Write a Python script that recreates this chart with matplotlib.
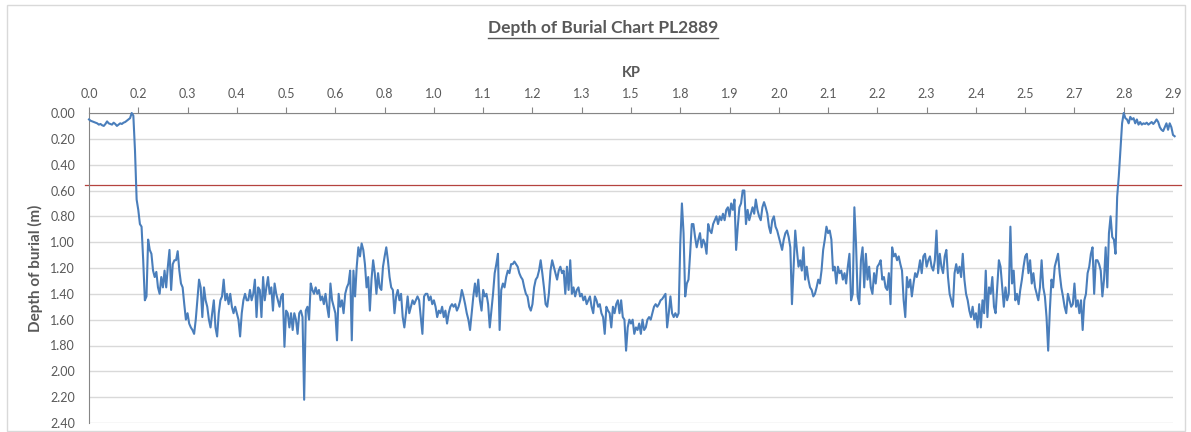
import matplotlib
matplotlib.use("Agg")
import matplotlib.pyplot as plt
from matplotlib.lines import Line2D
from matplotlib.patches import Rectangle

# KP labels shown on the category axis (one every 30 samples)
kp_labels = ["0.0", "0.2", "0.3", "0.4", "0.5", "0.6", "0.8", "1.0", "1.1", "1.2", "1.3", "1.5",
             "1.8", "1.9", "2.0", "2.1", "2.2", "2.3", "2.4", "2.5", "2.7", "2.8", "2.9"]
samples_per_label = 30

# depth of burial (m), in stretches
depth_a = [0.05, 0.06, 0.065, 0.07, 0.075, 0.08, 0.09, 0.085, 0.095, 0.10, 0.085, 0.065, 0.08, 0.085,
           0.09, 0.075, 0.085, 0.10, 0.09, 0.08, 0.085, 0.075, 0.07, 0.06, 0.05, 0.04, 0.00, 0.02,
           0.29, 0.67, 0.75, 0.86, 0.88, 1.14, 1.45, 1.42, 0.98, 1.06, 1.09, 1.22, 1.27, 1.23, 1.35,
           1.40, 1.27, 1.35, 1.22, 1.35, 1.19, 1.06, 1.37, 1.17, 1.14, 1.14, 1.07, 1.22, 1.32, 1.35,
           1.48, 1.60, 1.55, 1.63, 1.66, 1.68, 1.71, 1.60, 1.45, 1.29, 1.35, 1.58, 1.35, 1.45, 1.50,
           1.60, 1.66, 1.55, 1.45, 1.66, 1.73, 1.55, 1.45, 1.42, 1.29, 1.45, 1.40, 1.48, 1.40, 1.50,
           1.55, 1.50, 1.55, 1.60, 1.73, 1.55, 1.45, 1.40, 1.45, 1.45, 1.37, 1.45, 1.40, 1.29, 1.58,
           1.35]
depth_b = [1.37, 1.58, 1.27, 1.45, 1.35, 1.27, 1.40, 1.35, 1.53, 1.32, 1.40, 1.45, 1.50, 1.42, 1.40,
           1.81, 1.53, 1.55, 1.66, 1.55, 1.68, 1.55, 1.60, 1.71, 1.55, 1.53, 1.58, 2.22, 1.53, 1.50,
           1.60, 1.32, 1.37, 1.40, 1.35, 1.40, 1.37, 1.45, 1.42, 1.48, 1.40, 1.50, 1.58, 1.32, 1.45,
           1.50, 1.55, 1.76, 1.40, 1.50, 1.45, 1.55, 1.40, 1.35, 1.32, 1.22, 1.76, 1.22, 1.42, 1.19,
           1.04, 1.11, 1.01, 1.06, 1.17, 1.35, 1.27, 1.53, 1.29, 1.14, 1.24, 1.40, 1.24, 1.35, 1.37,
           1.19, 1.11, 1.04, 1.14, 1.27, 1.35, 1.37, 1.55, 1.42, 1.37, 1.45, 1.40, 1.58, 1.66, 1.55,
           1.42, 1.55, 1.50, 1.45, 1.48, 1.45, 1.42, 1.45, 1.58, 1.71, 1.42, 1.40, 1.40, 1.45, 1.42,
           1.48, 1.45, 1.50, 1.58, 1.53]
depth_c = [1.55, 1.50, 1.58, 1.53, 1.63, 1.55, 1.50, 1.48, 1.50, 1.48, 1.53, 1.50, 1.45, 1.37, 1.42,
           1.48, 1.55, 1.60, 1.68, 1.55, 1.42, 1.32, 1.42, 1.29, 1.45, 1.53, 1.37, 1.42, 1.40, 1.48,
           1.66, 1.53, 1.40, 1.24, 1.17, 1.09, 1.68, 1.37, 1.32, 1.35, 1.27, 1.22, 1.24, 1.17, 1.17,
           1.15, 1.17, 1.19, 1.24, 1.27, 1.29, 1.35, 1.40, 1.42, 1.50, 1.53, 1.48, 1.35, 1.29, 1.27,
           1.22, 1.14, 1.24, 1.35, 1.48, 1.50, 1.40, 1.22, 1.14, 1.19, 1.24, 1.29, 1.22, 1.19, 1.24,
           1.22, 1.40, 1.19, 1.37, 1.14, 1.40, 1.35, 1.42, 1.37, 1.35, 1.42, 1.40, 1.45, 1.42, 1.48,
           1.45, 1.42, 1.50, 1.55, 1.42, 1.45, 1.50, 1.48, 1.55, 1.58, 1.71, 1.50, 1.53, 1.55, 1.66,
           1.50, 1.55, 1.48, 1.45, 1.55]
depth_d = [1.45, 1.58, 1.60, 1.84, 1.66, 1.60, 1.63, 1.60, 1.71, 1.66, 1.68, 1.63, 1.71, 1.60, 1.68,
           1.66, 1.60, 1.58, 1.60, 1.55, 1.50, 1.48, 1.50, 1.48, 1.45, 1.44, 1.42, 1.40, 1.66, 1.55,
           1.42, 1.55, 1.58, 1.55, 1.58, 1.55, 1.01, 0.70, 0.93, 1.42, 1.32, 1.29, 1.09, 0.86, 0.86,
           0.96, 1.04, 0.98, 0.93, 1.04, 0.98, 1.01, 1.09, 0.86, 0.91, 0.93, 0.86, 0.83, 0.80, 0.86,
           0.80, 0.83, 0.78, 0.83, 0.75, 0.73, 0.80, 0.70, 0.75, 0.67, 1.06, 0.88, 0.73, 0.70, 0.60,
           0.60, 0.86, 0.75, 0.83, 0.78, 0.73, 0.78, 0.67, 0.75, 0.80, 0.83, 0.73, 0.69, 0.73, 0.78,
           0.88, 0.93, 0.83, 0.80, 0.88, 0.91, 0.96, 1.01, 1.06, 0.98, 0.93, 0.91, 0.96, 1.04, 1.48,
           1.19, 0.91, 1.06, 1.19]
depth_e = [1.14, 1.22, 1.04, 1.29, 1.19, 1.29, 1.35, 1.37, 1.42, 1.40, 1.35, 1.29, 1.32, 1.22, 1.06,
           0.98, 0.88, 0.93, 0.91, 0.98, 1.22, 1.19, 1.32, 1.19, 1.24, 1.22, 1.29, 1.24, 1.32, 1.19,
           1.09, 1.45, 1.40, 0.73, 1.01, 1.42, 1.48, 1.14, 1.04, 1.35, 1.09, 1.29, 1.19, 1.35, 1.40,
           1.24, 1.32, 1.19, 1.17, 1.14, 1.29, 1.27, 1.35, 1.37, 1.24, 1.48, 1.04, 1.11, 1.09, 1.14,
           1.11, 1.17, 1.22, 1.45, 1.58, 1.27, 1.35, 1.29, 1.42, 1.32, 1.24, 1.27, 1.22, 1.14, 1.24,
           1.11, 1.09, 1.19, 1.14, 1.11, 1.19, 1.22, 1.14, 0.91, 1.24, 1.09, 1.19, 1.24, 1.11, 1.06,
           1.27, 1.40, 1.45, 1.50, 1.24, 1.17, 1.24, 1.19, 1.27, 1.09, 1.29, 1.40, 1.45, 1.53, 1.58,
           1.50, 1.60, 1.55, 1.66, 1.48]
depth_f = [1.66, 1.45, 1.55, 1.22, 1.58, 1.35, 1.40, 1.27, 1.50, 1.55, 1.35, 1.14, 1.19, 1.35, 1.50,
           1.35, 1.45, 1.40, 0.88, 1.32, 1.22, 1.45, 1.40, 1.48, 1.37, 1.29, 1.19, 1.11, 1.09, 1.24,
           1.14, 1.32, 1.24, 1.35, 1.40, 1.45, 1.35, 1.14, 1.35, 1.42, 1.58, 1.84, 1.53, 1.29, 1.35,
           1.19, 1.14, 1.09, 1.24, 1.35, 1.42, 1.50, 1.55, 1.40, 1.45, 1.50, 1.48, 1.32, 1.50, 1.45,
           1.55, 1.45, 1.68, 1.45, 1.40, 1.24, 1.19, 1.09, 1.04, 1.40, 1.14, 1.14, 1.17, 1.22, 1.42,
           1.29, 1.04, 1.35, 0.93, 0.80, 0.96, 0.98, 1.09, 0.65, 0.49, 0.29, 0.08, 0.00, 0.04, 0.05,
           0.08, 0.03, 0.05, 0.04, 0.08, 0.05, 0.09, 0.07, 0.09, 0.08, 0.085, 0.075, 0.09, 0.08, 0.07,
           0.085, 0.07, 0.05, 0.07, 0.11, 0.13, 0.14, 0.11, 0.08, 0.13, 0.08, 0.11, 0.17, 0.18]

depth = depth_a + depth_b + depth_c + depth_d + depth_e + depth_f
target_depth = 0.56

grey = "#595959"
plt.rcParams["font.family"] = ["Lato", "DejaVu Sans"]

fig = plt.figure(figsize=(11.91, 4.32), dpi=100)
fig.patches.append(Rectangle((7 / 1191, 1 / 432), 1178 / 1191, 426 / 432, transform=fig.transFigure,
                             fill=False, edgecolor="#d9d9d9", linewidth=1))
ax = fig.add_axes([89 / 1191, 9 / 432, 1084 / 1191, 310 / 432])

ax.plot(range(len(depth)), depth, color="#4a7ebb", linewidth=1.5, clip_on=False, zorder=3)
ax.axhline(target_depth, xmin=-0.004, xmax=1.007, color="#b5433f", linewidth=0.9, clip_on=False, zorder=2)

n_int = len(kp_labels) - 1
ax.set_xlim(0, n_int * samples_per_label)
ax.set_ylim(2.4, 0)
ax.set_xticks([k * samples_per_label for k in range(len(kp_labels))])
ax.set_xticklabels(kp_labels)
ax.set_yticks([i * 0.2 for i in range(13)])
ax.set_yticklabels(["%.2f" % (i * 0.2) for i in range(13)])
ax.xaxis.tick_top()
ax.xaxis.set_label_position("top")
ax.tick_params(axis="x", colors="#868686", labelcolor=grey, labelsize=9, length=4, pad=5)
ax.tick_params(axis="y", length=0, labelcolor=grey, labelsize=9, pad=10)
ax.grid(axis="y", color="#d9d9d9", linewidth=1)
ax.set_axisbelow(True)
for side in ["right", "bottom"]:
    ax.spines[side].set_visible(False)
for side in ["left", "top"]:
    ax.spines[side].set_color("#868686")

ax.set_xlabel("KP", fontsize=10.5, fontweight="bold", color=grey, labelpad=8)
ax.set_ylabel("Depth of burial (m)", fontsize=11, fontweight="bold", color=grey, labelpad=5)

title = fig.text(0.506, 1 - 28 / 432, "Depth of Burial Chart PL2889", ha="center", va="center",
                 fontsize=12.5, fontweight="bold", color=grey)
fig.canvas.draw()
bb = title.get_window_extent().transformed(fig.transFigure.inverted())
fig.lines.append(Line2D([bb.x0, bb.x1], [bb.y0 - 0.004, bb.y0 - 0.004], transform=fig.transFigure,
                        color=grey, linewidth=1))

fig.savefig("out.png", dpi=100)
